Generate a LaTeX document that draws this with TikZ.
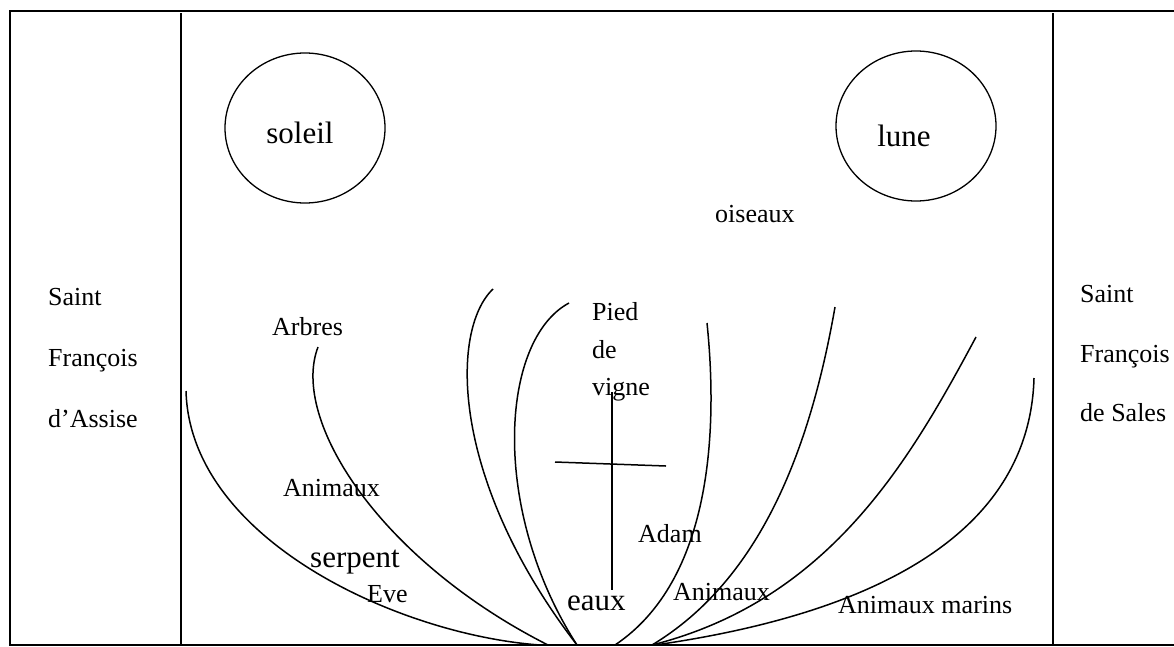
\documentclass[tikz,border=0pt]{standalone}
\usepackage{fontspec}
\setmainfont{Liberation Serif}
\usetikzlibrary{shapes.geometric}

\tikzset{
    lbl/.style={font=\fontsize{26}{30}\selectfont, anchor=base west, inner sep=0pt},
    biglbl/.style={lbl, font=\fontsize{31}{36}\selectfont},
    astre/.style={draw, ellipse, line width=1.3pt, minimum width=160pt, minimum height=150pt, inner sep=0pt},
    branche/.style={line width=1.5pt}
}

\begin{document}
\begin{tikzpicture}[x=1pt,y=-1pt]
    \useasboundingbox (0,0) rectangle (1174,646);

    \draw[line width=2.6pt] (1174,11) -- (10,11) -- (10,645) -- (1174,645);
    \draw[line width=1.6pt] (181,13) -- (181,645);
    \draw[line width=1.6pt] (1053,13) -- (1053,645);

    \node[astre] (soleil) at (305,128) {};
    \node[astre] (lune) at (916,126) {};
    \node[biglbl, anchor=center] (tsoleil) at ([shift={(-5,5)}]soleil.center) {soleil};
    \node[biglbl, anchor=center] (tlune) at ([shift={(-12,10)}]lune.center) {lune};

    \begin{scope}[every node/.style={lbl}]
        \node (sa1) at (48,305) {Saint};
        \node (fr1) at (48,366) {François};
        \node (as1) at (48,427) {d’Assise};
        \node (sa2) at (1080,302) {Saint};
        \node (fr2) at (1080,362) {François};
        \node (sa3) at (1080,421) {de Sales};
        \node (ois) at (715,222) {oiseaux};
        \node (arb) at (272,335) {Arbres};
        \node (pied) at (592,320) {Pied};
        \node (de) at (592,358) {de};
        \node (vig) at (592,395) {vigne};
        \node (an1) at (283,496) {Animaux};
        \node (eve) at (367,602) {Eve};
        \node (adam) at (638,542) {Adam};
        \node (an2) at (673,600) {Animaux};
        \node (mar) at (838,613) {Animaux marins};
        \node[biglbl] (serp) at (310,567) {serpent};
        \node[biglbl] (eaux) at (567,610) {eaux};
    \end{scope}

    \begin{scope}[every path/.style={branche}]
        \draw (186,391) .. controls (190,540) and (400,635) .. (540,645);
        \draw (318,347) .. controls (290,420) and (380,560) .. (548,645);
        \draw (493,289) .. controls (450,330) and (450,480) .. (577,645);
        \draw (569,303) .. controls (500,340) and (490,510) .. (577,645);
        \draw (707,323) .. controls (718,430) and (712,580) .. (615,645);
        \draw (835,307) .. controls (810,450) and (760,580) .. (652,645);
        \draw (976,337) .. controls (910,460) and (830,600) .. (652,645);
        \draw (1034,378) .. controls (1030,520) and (900,610) .. (655,645);
        \draw (612,392) -- (612,590);
        \draw (555,462) -- (666,466);
    \end{scope}
\end{tikzpicture}
\end{document}
